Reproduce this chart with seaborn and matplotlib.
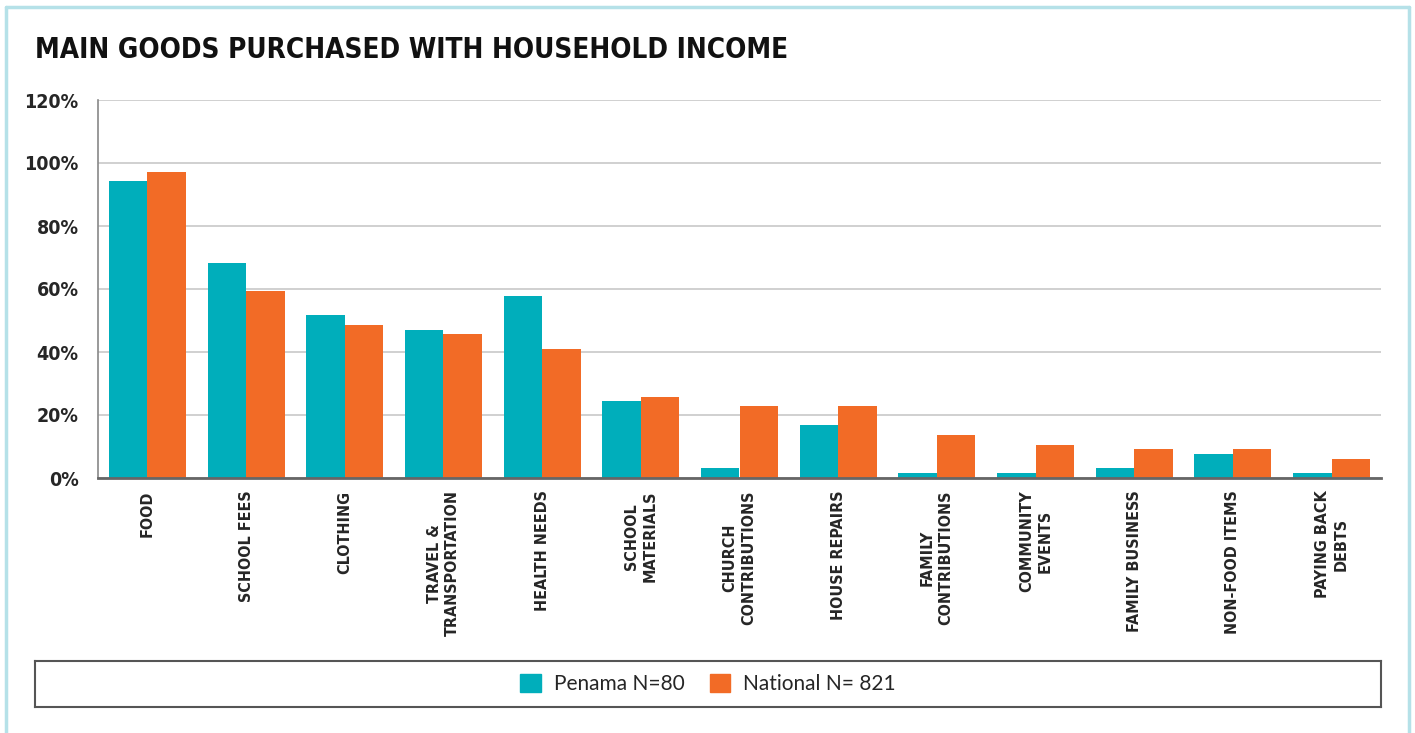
import numpy as np
import pandas as pd
import matplotlib.pyplot as plt
import seaborn as sns
from matplotlib.lines import Line2D
from matplotlib.patches import Patch

categories = ['FOOD', 'SCHOOL FEES', 'CLOTHING', 'TRAVEL &\nTRANSPORTATION', 'HEALTH NEEDS',
              'SCHOOL\nMATERIALS', 'CHURCH\nCONTRIBUTIONS', 'HOUSE REPAIRS', 'FAMILY\nCONTRIBUTIONS',
              'COMMUNITY\nEVENTS', 'FAMILY BUSINESS', 'NON-FOOD ITEMS', 'PAYING BACK\nDEBTS']
penama = [94.3, 68.3, 51.7, 47.0, 57.8, 24.4, 3.2, 16.8, 1.6, 1.6, 3.2, 7.6, 1.6]
national = [97.1, 59.4, 48.6, 45.7, 41.0, 25.7, 22.9, 22.9, 13.7, 10.5, 9.2, 9.2, 6.0]
series = ['Penama N=80', 'National N= 821']
yticks = [0, 20, 40, 60, 80, 100, 120]

df = pd.DataFrame({
    'cat': categories * 2,
    'val': penama + national,
    'grp': [series[0]] * len(categories) + [series[1]] * len(categories),
})

sns.set_style('white')
plt.rcParams['font.family'] = ['DejaVu Sans']
plt.rcParams['font.stretch'] = 'condensed'

teal = '#00aebb'
orange = '#f26b26'

fig = plt.figure(figsize=(14.15, 7.33), dpi=100)
ax = fig.add_axes([98 / 1415, 1 - 478 / 733, (1381 - 98) / 1415, (478 - 100) / 733])

sns.barplot(data=df, x='cat', y='val', hue='grp', palette=[teal, orange],
            width=0.78, gap=0, saturation=1, legend=False, linewidth=0, ax=ax)

ax.set_ylim(0, 120)
ax.set_yticks(yticks)
ax.set_yticklabels([f'{t}%' for t in yticks], fontsize=14, fontweight='bold', stretch='condensed')
ax.yaxis.grid(True, color='#c8c8c8', linewidth=1.2)
ax.set_axisbelow(True)
ax.set_xlim(-0.5, len(categories) - 0.5)
ax.set_xlabel('')
ax.set_ylabel('')
ax.set_xticks(range(len(categories)))
ax.set_xticklabels(categories, rotation=90, fontsize=11.5, fontweight='bold', stretch='condensed',
                   va='top', ha='center', linespacing=1.3)
ax.tick_params(axis='x', length=0, pad=9)
ax.tick_params(axis='y', length=0, pad=14)
for s in ['top', 'right']:
    ax.spines[s].set_visible(False)
ax.spines['left'].set_color('#888888')
ax.spines['left'].set_linewidth(1.2)
ax.spines['bottom'].set_color('#666666')
ax.spines['bottom'].set_linewidth(2)
ax.spines['bottom'].set_zorder(5)

fig.text(35 / 1415, 1 - 50 / 733, 'MAIN GOODS PURCHASED WITH HOUSEHOLD INCOME',
         fontsize=20, fontweight='bold', stretch='condensed', va='center', ha='left', color='#111111')

# legend box
lax = fig.add_axes([35 / 1415, 1 - 707 / 733, (1381 - 35) / 1415, (707 - 661) / 733])
lax.set_xticks([])
lax.set_yticks([])
for s in lax.spines.values():
    s.set_color('#555555')
    s.set_linewidth(1.5)
handles = [Patch(color=teal), Patch(color=orange)]
lax.legend(handles, series, loc='center', ncol=2, frameon=False,
           handlelength=1.0, handleheight=1.0, handletextpad=0.6, columnspacing=1.2,
           prop={'family': ['Lato', 'DejaVu Sans'], 'size': 15})

# outer light blue frame
fig.add_artist(Line2D([6 / 1415, 6 / 1415], [0, 1 - 7 / 733], color='#b5e1e8', lw=2.5))
fig.add_artist(Line2D([6 / 1415, 1409 / 1415], [1 - 7 / 733, 1 - 7 / 733], color='#b5e1e8', lw=2.5))
fig.add_artist(Line2D([1409 / 1415, 1409 / 1415], [0, 1 - 7 / 733], color='#b5e1e8', lw=2.5))

fig.savefig('out.png', dpi=100)
